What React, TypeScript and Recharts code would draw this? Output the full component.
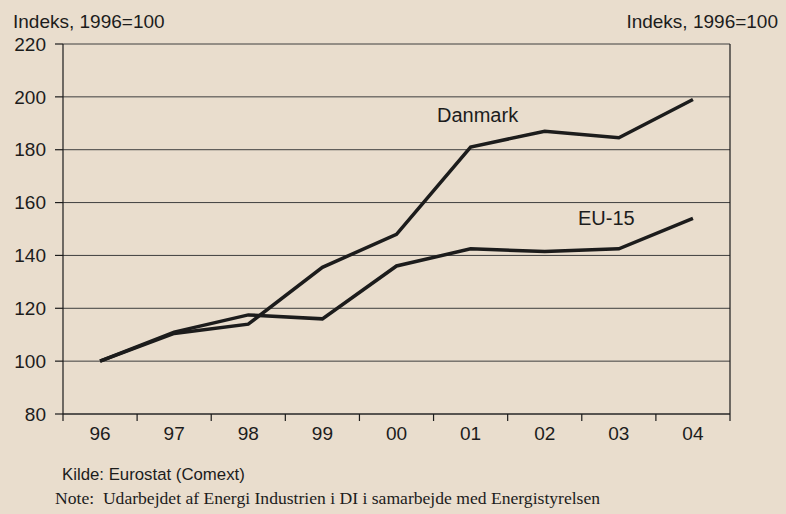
import React from 'react'
import { LineChart, Line, XAxis, YAxis, CartesianGrid } from 'recharts'

const years = ['96', '97', '98', '99', '00', '01', '02', '03', '04']
const danmark = [100, 110.5, 114, 135.5, 148, 181, 187, 184.5, 199]
const eu15 = [100, 111, 117.5, 116, 136, 142.5, 141.5, 142.5, 154]
const yTicks = [80, 100, 120, 140, 160, 180, 200, 220]

const data = years.map((year, i) => ({ x: i, year, danmark: danmark[i], eu15: eu15[i] }))
const xTicks: number[] = []
for (let i = -0.5; i <= years.length - 0.5; i += 0.5) xTicks.push(i)

const BG = '#e9ddcd'
const INK = '#1c1c1c'
const SANS = '"Liberation Sans", Arial, sans-serif'
const SERIF = '"Liberation Serif", "Times New Roman", serif'

const XTick = (props: any) => {
  const { x, y, payload } = props
  const v = payload.value as number
  if (Number.isInteger(v)) {
    return (
      <text x={x} y={y + 26} textAnchor="middle" fill={INK} fontSize={19} fontFamily={SANS}>
        {years[v]}
      </text>
    )
  }
  return <line x1={x} x2={x} y1={y} y2={y + 7} stroke={INK} strokeWidth={1.2} />
}

export default function App() {
  const tick = { fill: INK, fontSize: 19, fontFamily: SANS }
  return (
    <div style={{ position: 'absolute', left: 0, top: 0, width: 786, height: 514, background: BG }}>
      <LineChart width={786} height={514} data={data} margin={{ top: 44, right: 0, left: 0, bottom: 70 }}>
        <CartesianGrid yAxisId="l" vertical={false} stroke="#3e3e3e" strokeWidth={1} />
        <XAxis
          dataKey="x"
          type="number"
          domain={[-0.5, years.length - 0.5]}
          ticks={xTicks}
          interval={0}
          height={30}
          tickSize={0}
          tickMargin={0}
          tickLine={false}
          axisLine={{ stroke: INK, strokeWidth: 1.2 }}
          tick={<XTick />}
        />
        <YAxis
          yAxisId="l"
          width={63}
          domain={[80, 220]}
          ticks={yTicks}
          interval={0}
          tickSize={8}
          tickMargin={9}
          axisLine={{ stroke: INK, strokeWidth: 1.2 }}
          tickLine={{ stroke: INK, strokeWidth: 1.2 }}
          tick={tick}
        />
        <YAxis
          yAxisId="r"
          orientation="right"
          width={56}
          domain={[80, 220]}
          ticks={yTicks}
          interval={0}
          tickSize={8}
          tickMargin={7}
          axisLine={{ stroke: INK, strokeWidth: 1.2 }}
          tickLine={{ stroke: INK, strokeWidth: 1.2 }}
          tick={tick}
        />
        <Line yAxisId="l" dataKey="danmark" type="linear" stroke={INK} strokeWidth={3.5} dot={false} isAnimationActive={false} />
        <Line yAxisId="l" dataKey="eu15" type="linear" stroke={INK} strokeWidth={3.5} dot={false} isAnimationActive={false} />
      </LineChart>
      <svg width={786} height={514} style={{ position: 'absolute', left: 0, top: 0, pointerEvents: 'none' }}>
        <text x={13} y={28} fill={INK} fontSize={19} fontFamily={SANS}>Indeks, 1996=100</text>
        <text x={778} y={28} textAnchor="end" fill={INK} fontSize={19} fontFamily={SANS}>Indeks, 1996=100</text>
        <text x={437} y={122} fill={INK} fontSize={20} fontFamily={SANS}>Danmark</text>
        <text x={578} y={225} fill={INK} fontSize={20} fontFamily={SANS}>EU-15</text>
        <text x={62} y={480} fill={INK} fontSize={16.8} fontFamily={SANS}>Kilde: Eurostat (Comext)</text>
        <text x={55} y={504} fill={INK} fontSize={17.6} fontFamily={SERIF} xmlSpace="preserve">Note:  Udarbejdet af Energi Industrien i DI i samarbejde med Energistyrelsen</text>
      </svg>
    </div>
  )
}
